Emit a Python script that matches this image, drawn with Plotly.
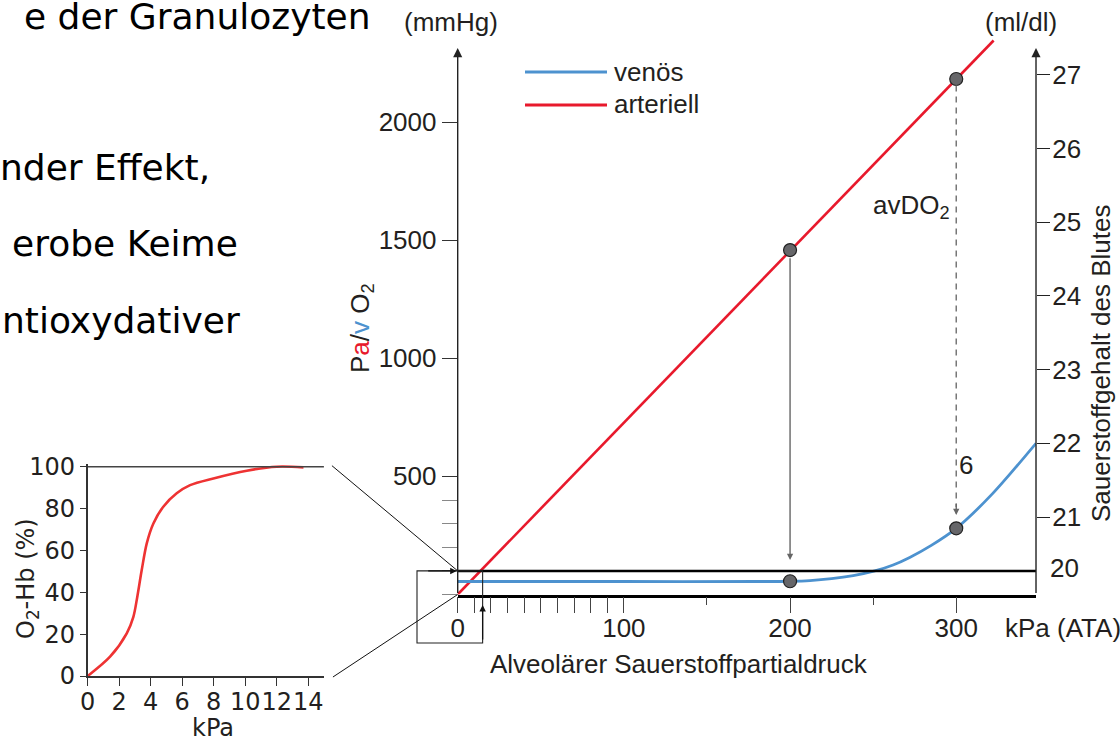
import plotly.graph_objects as go

# ---------------- data ----------------
arterial_kpa = [0, 322.5]
arterial_mmhg = [0, 2345]

venous_kpa = [0, 100, 180, 200, 212, 225, 238, 251, 262, 272, 285, 300, 322, 348]
venous_mmhg = [55, 55, 55, 56, 59, 67, 80, 100, 125, 157, 208, 280, 428, 640]

marker_kpa = [200, 200, 300, 300]
marker_mmhg = [1458, 56, 2182, 280]

hb_kpa = [0, 1.42, 2.48, 2.90, 3.15, 3.43, 3.75, 4.17, 4.80, 5.65, 6.50, 7.98, 10.1, 12.0, 13.7]
hb_sat = [0, 9.2, 20.4, 28.3, 37.9, 50.6, 63.4, 72.9, 80.9, 87.3, 91.2, 94.4, 98.1, 100, 99.7]

x_major = [0, 10, 20, 30, 40, 50, 60, 70, 80, 90, 100, 200, 300]
x_labels = ['0', '', '', '', '', '', '', '', '', '', '100', '200', '300']
x_minor = [150, 250]
y_major = [500, 1000, 1500, 2000]
y_minor = [0, 100, 200, 300, 400]
y2_ticks = [21, 22, 23, 24, 25, 26, 27]
inset_x_ticks = [0, 2, 4, 6, 8, 10, 12, 14]
inset_y_ticks = [0, 20, 40, 60, 80, 100]

slide_lines = ["e der Granulozyten", "nder Effekt,", "erobe Keime", "ntioxydativer"]

# ---------------- geometry / style ----------------
W, H = 1120, 742
X0, XS, XMAX = 457.7, 1.6618, 348.0     # main x: px of 0 kPa, px per kPa
Y0, YS, YMAX = 594.5, 0.23625, 2400.0   # main y: px of 0 mmHg, px per mmHg
Y2_REF, Y2_PX, Y2S = 21.0, 517.0, 73.67
IX0, IXS, IXMAX = 87.7, 15.75, 15.0
IY0, IYS, IYMAX = 676.0, 2.093, 101.5

RED = "#e8192c"
BLUE = "#4d92cf"
INK = "#231f20"
HELV = "Liberation Sans, Arial, Helvetica, sans-serif"
WIDE = "DejaVu Sans, sans-serif"


def px_x(k):
    return X0 + k * XS


def px_y(m):
    return Y0 - m * YS


def fx(p):
    return p / W


def fy(p):
    return 1 - p / H


top_px = px_y(YMAX)
y2_range = [Y2_REF - (Y0 - Y2_PX) / Y2S, Y2_REF + (Y2_PX - top_px) / Y2S]

fig = go.Figure()

fig.add_trace(go.Scatter(x=arterial_kpa, y=arterial_mmhg, mode="lines",
                         line=dict(color=RED, width=2.6), showlegend=False,
                         xaxis="x", yaxis="y"))
fig.add_trace(go.Scatter(x=venous_kpa, y=venous_mmhg, mode="lines",
                         line=dict(color=BLUE, width=2.8, shape="spline", smoothing=0.8),
                         showlegend=False, xaxis="x", yaxis="y"))
fig.add_trace(go.Scatter(x=marker_kpa, y=marker_mmhg, mode="markers",
                         marker=dict(size=13, color="#666669", line=dict(color="#222", width=1.2)),
                         showlegend=False, xaxis="x", yaxis="y"))
fig.add_trace(go.Scatter(x=hb_kpa, y=hb_sat, mode="lines",
                         line=dict(color="#ee3333", width=2.6, shape="spline", smoothing=0.9),
                         showlegend=False, xaxis="x2", yaxis="y2"))
# dummy trace to activate right axis
fig.add_trace(go.Scatter(x=[None], y=[None], xaxis="x", yaxis="y3", showlegend=False))

shapes = []
annotations = []

# thick line at 100 mmHg
shapes.append(dict(type="line", xref="x", yref="y", x0=0, x1=XMAX, y0=100, y1=100,
                   line=dict(color="black", width=2.5)))
# dashed line at 300 kPa
shapes.append(dict(type="line", xref="x", yref="y", x0=300, x1=300,
                   y0=marker_mmhg[2] - 28, y1=370,
                   line=dict(color="#777", width=1.5, dash="6px,5px")))
# inset top line at 100 %
shapes.append(dict(type="line", xref="x2", yref="y2", x0=0, x1=IXMAX, y0=100, y1=100,
                   line=dict(color="#444", width=1.5)))
# zoom box
box_r = px_x(IXMAX)
shapes.append(dict(type="rect", xref="paper", yref="paper",
                   x0=fx(X0 - 40.7), x1=fx(box_r), y0=fy(643), y1=fy(px_y(100)),
                   line=dict(color="#222", width=1.1)))
# zoom connector lines
inset_r = IX0 + IXMAX * IXS
shapes.append(dict(type="line", xref="paper", yref="paper",
                   x0=fx(inset_r + 8), y0=fy(IY0 - 100 * IYS - 1), x1=fx(X0), y1=fy(px_y(100)),
                   line=dict(color="#111", width=1)))
shapes.append(dict(type="line", xref="paper", yref="paper",
                   x0=fx(inset_r + 9), y0=fy(IY0 + 1), x1=fx(X0), y1=fy(Y0),
                   line=dict(color="#111", width=1)))
# legend samples
shapes.append(dict(type="line", xref="paper", yref="paper", x0=fx(525), x1=fx(607),
                   y0=fy(72), y1=fy(72), line=dict(color=BLUE, width=3)))
shapes.append(dict(type="line", xref="paper", yref="paper", x0=fx(525), x1=fx(607),
                   y0=fy(105), y1=fy(105), line=dict(color=RED, width=3)))

# axis arrows (left and right)
for xv in (0, XMAX):
    annotations.append(dict(x=xv, y=2313, xref="x", yref="y", ax=xv, ay=0, axref="x", ayref="y",
                            text="", showarrow=True, arrowhead=2, arrowsize=1.3,
                            arrowwidth=1.4, arrowcolor="#222", standoff=0, startstandoff=0))
# solid arrow at 200 kPa
annotations.append(dict(x=200, y=146, xref="x", yref="y", ax=200, ay=marker_mmhg[0] - 28,
                        axref="x", ayref="y", text="", showarrow=True, arrowhead=2,
                        arrowsize=0.9, arrowwidth=1.4, arrowcolor="#666", standoff=0))
# dashed arrow head at 300 kPa
annotations.append(dict(x=300, y=336, xref="x", yref="y", ax=300, ay=390,
                        axref="x", ayref="y", text="", showarrow=True, arrowhead=2,
                        arrowsize=0.9, arrowwidth=1.4, arrowcolor="#666", standoff=0))
# zoom box arrows
annotations.append(dict(x=fx(X0 - 1), y=fy(px_y(100)), xref="paper", yref="paper",
                        ax=-30, ay=0, text="", showarrow=True, arrowhead=2, arrowsize=1,
                        arrowwidth=1.3, arrowcolor="#111"))
annotations.append(dict(x=fx(box_r), y=fy(605), xref="paper", yref="paper",
                        ax=0, ay=36, text="", showarrow=True, arrowhead=2, arrowsize=1,
                        arrowwidth=1.3, arrowcolor="#111"))


def txt(x, y, s, size=26, family=HELV, xanchor="center", angle=0, color=INK):
    annotations.append(dict(x=fx(x), y=fy(y), xref="paper", yref="paper", text=s,
                            showarrow=False, xanchor=xanchor, yanchor="middle",
                            textangle=angle, font=dict(family=family, size=size, color=color)))


txt(451, 22, "(mmHg)")
txt(1021, 22, "(ml/dl)")
txt(612, 72, "venös", xanchor="left")
txt(612, 104, "arteriell", xanchor="left")
txt(911, 207, "avDO<sub>2</sub>")
txt(966, 465, "6")
txt(1064, 568, "20")
txt(1003, 628, "kPa (ATA)", xanchor="left")
txt(679, 664, "Alveolärer Sauerstoffpartialdruck")
txt(1101, 363, "Sauerstoffgehalt des Blutes", angle=-90)
txt(362, 328, 'P<span style="color:%s">a</span>/<span style="color:%s">v</span> O<sub>2</sub>'
    % (RED, BLUE), angle=-90)
# inset labels
txt(27, 579, "O<sub>2</sub>-Hb (%)", size=24, family=WIDE, angle=-90)
txt(213, 728, "kPa", size=24, family=WIDE)
# slide text
slide_y = [16, 167, 244, 320]
slide_r = [373, 212, 240, 242]
for s, yy, xr in zip(slide_lines, slide_y, slide_r):
    txt(xr, yy, s, size=36, family=WIDE, xanchor="right", color="black")

main_dom_x = [fx(X0), fx(px_x(XMAX))]
main_dom_y = [fy(Y0), fy(top_px)]
in_dom_x = [fx(IX0), fx(IX0 + IXMAX * IXS)]
in_dom_y = [fy(IY0), fy(IY0 - IYMAX * IYS)]

fig.update_layout(
    width=W, height=H, margin=dict(l=0, r=0, t=0, b=0),
    paper_bgcolor="white", plot_bgcolor="rgba(0,0,0,0)",
    showlegend=False,
    font=dict(family=HELV, size=26, color=INK),
    shapes=shapes, annotations=annotations,
    xaxis=dict(domain=main_dom_x, range=[0, XMAX], showgrid=False, zeroline=False,
               showline=True, linecolor="black", linewidth=2.5,
               tickmode="array", tickvals=x_major, ticktext=x_labels, tickangle=0,
               ticks="outside", ticklen=16, tickwidth=1.3, tickcolor="#444",
               minor=dict(tickvals=x_minor, ticks="outside", ticklen=8, tickwidth=1.3,
                          tickcolor="#444", showgrid=False),
               tickfont=dict(family=HELV, size=26, color=INK), anchor="y",
               ticklabelstandoff=-7, automargin=False, fixedrange=True),
    yaxis=dict(domain=main_dom_y, range=[0, YMAX], showgrid=False, zeroline=False,
               showline=False, tickmode="array", tickvals=y_major,
               ticks="outside", ticklen=15, tickwidth=1.3, tickcolor="#333",
               minor=dict(tickvals=y_minor, ticks="outside", ticklen=15, tickwidth=1.3,
                          tickcolor="#888", showgrid=False),
               tickfont=dict(family=HELV, size=26, color=INK), anchor="x",
               automargin=False, fixedrange=True),
    yaxis3=dict(domain=main_dom_y, range=y2_range, overlaying="y", side="right", anchor="x",
                showgrid=False, zeroline=False, showline=False, tickmode="array",
                tickvals=y2_ticks, ticks="outside", ticklen=13, tickwidth=1.3,
                tickcolor="#222", tickfont=dict(family=HELV, size=26, color=INK),
                ticklabelstandoff=-3, automargin=False, fixedrange=True),
    xaxis2=dict(domain=in_dom_x, range=[0, IXMAX], showgrid=False, zeroline=False,
                showline=True, linecolor="#333", linewidth=1.5, tickmode="array",
                tickvals=inset_x_ticks, ticks="outside", ticklen=8, tickwidth=1.3,
                tickcolor="#333", tickfont=dict(family=WIDE, size=24, color=INK),
                tickangle=0, ticklabelstandoff=-5, anchor="y2", automargin=False,
                fixedrange=True),
    yaxis2=dict(domain=in_dom_y, range=[0, IYMAX], showgrid=False, zeroline=False,
                showline=True, linecolor="#333", linewidth=1.5, tickmode="array",
                tickvals=inset_y_ticks, ticks="outside", ticklen=6, tickwidth=1.3,
                tickcolor="#333", tickfont=dict(family=WIDE, size=24, color=INK),
                anchor="x2", automargin=False, fixedrange=True),
)

fig.write_html("out.html", config={"displayModeBar": False},
               post_script="document.body.style.margin='0';document.body.style.padding='0';")
